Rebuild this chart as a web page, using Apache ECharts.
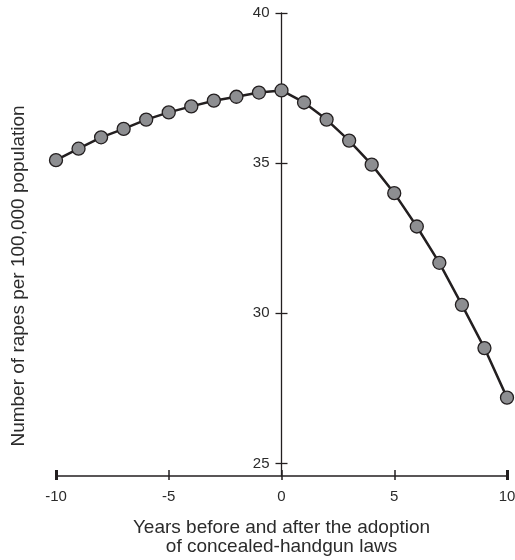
<!DOCTYPE html>
<html>
<head>
<meta charset="utf-8">
<script src="https://cdn.jsdelivr.net/npm/echarts@6/dist/echarts.min.js"></script>
<style>html,body{margin:0;padding:0;background:#fff;}#c{width:515px;height:560px;}</style>
</head>
<body>
<div id="c"></div>
<script>
const years = [-10,-9,-8,-7,-6,-5,-4,-3,-2,-1,0,1,2,3,4,5,6,7,8,9,10];
const rapes = [35.10,35.48,35.86,36.14,36.45,36.69,36.89,37.08,37.21,37.35,37.42,37.02,36.45,35.75,34.95,34.00,32.89,31.68,30.28,28.84,27.19];
const xTicks = [-10,-5,0,5,10];
const yTicks = [25,30,35,40];
const xTitle = 'Years before and after the adoption\nof concealed-handgun laws';
const yTitle = 'Number of rapes per 100,000 population';

const ink = '#231f20';
const txt = '#2b2b2b';
const font = 'Liberation Sans, Arial, Helvetica, sans-serif';
const points = years.map((x,i)=>[x, rapes[i]]);
const yMin = 24.58, yMax = 40;

function xAx(extra){
  return Object.assign({
    type:'value', min:-10, max:10, position:'bottom', gridIndex:0,
    axisLine:{show:false}, splitLine:{show:false},
    axisLabel:{show:false}, axisTick:{show:false}
  }, extra);
}
function yAx(extra){
  return Object.assign({
    type:'value', min:yMin, max:yMax, position:'left',
    axisLine:{show:false}, splitLine:{show:false},
    axisLabel:{show:false}, axisTick:{show:false}
  }, extra);
}
const g = {top:13, bottom:84, containLabel:false, outerBoundsMode:'none'};
const chart = echarts.init(document.getElementById('c'));
chart.setOption({
  animation:false,
  grid:[
    Object.assign({left:56, right:8}, g),
    Object.assign({left:281.5, right:0}, g),
    Object.assign({left:281.5, right:0}, g)
  ],
  xAxis:[
    xAx({
      axisLine:{show:true, onZero:false, lineStyle:{color:ink, width:1.5}},
      axisTick:{show:true, inside:false, length:4, customValues:[-5,0,5], lineStyle:{color:ink, width:1.5}},
      axisLabel:{show:true, customValues:xTicks, margin:13, color:txt, fontSize:15, fontFamily:font},
      name:xTitle, nameLocation:'middle', nameGap:42,
      nameTextStyle:{color:txt, fontSize:19, fontFamily:font, lineHeight:19}
    }),
    xAx({axisTick:{show:true, inside:true, length:6, customValues:[-5,0,5], lineStyle:{color:ink, width:1.5}}}),
    xAx({axisTick:{show:true, inside:false, length:4, customValues:[-10,10], lineStyle:{color:ink, width:3}}}),
    xAx({axisTick:{show:true, inside:true, length:6, customValues:[-10,10], lineStyle:{color:ink, width:3}}}),
    xAx({gridIndex:1, min:0, max:1}),
    xAx({gridIndex:2, min:0, max:1})
  ],
  yAxis:[
    yAx({gridIndex:0}),
    yAx({
      gridIndex:1,
      axisLine:{show:true, onZero:false, lineStyle:{color:ink, width:1.3}},
      axisTick:{show:true, inside:false, length:6, customValues:yTicks, lineStyle:{color:ink, width:1.3}},
      axisLabel:{show:true, customValues:yTicks, margin:12, color:txt, fontSize:15, fontFamily:font}
    }),
    yAx({
      gridIndex:2,
      axisTick:{show:true, inside:true, length:6, customValues:yTicks, lineStyle:{color:ink, width:1.3}}
    })
  ],
  graphic:[{
    type:'text', x:19, y:276, rotation:Math.PI/2,
    style:{text:yTitle, fill:txt, fontSize:19, fontFamily:font, align:'center', verticalAlign:'middle'}
  }],
  series:[{
    type:'line', data:points, xAxisIndex:0, yAxisIndex:0,
    symbol:'circle', symbolSize:13,
    lineStyle:{color:ink, width:2.5},
    itemStyle:{color:'#8d8e91', borderColor:ink, borderWidth:1.3},
    z:5
  }]
});
</script>
</body>
</html>
